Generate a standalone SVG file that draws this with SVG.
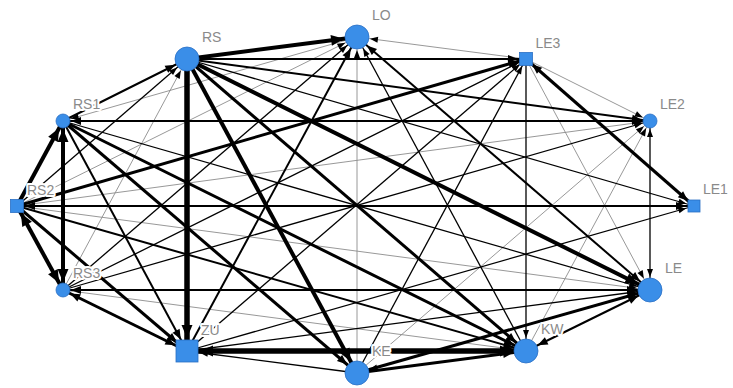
<svg xmlns="http://www.w3.org/2000/svg" width="733" height="388" viewBox="0 0 733 388">
<style>
.e{stroke:#000;fill:none}
.g{stroke:#8c8c8c;stroke-width:0.9}
.w1{stroke-width:1.3}
.w2{stroke-width:2}
.w3{stroke-width:3}
.w4{stroke-width:4}
.w5{stroke-width:5.5}
.n{fill:#3a8ee8;stroke:#2a6fc4;stroke-width:0.8}
.l{font-family:"Liberation Sans",Arial,sans-serif;font-size:14px;fill:#8a8a8a;stroke:#fff;stroke-width:4;stroke-linejoin:round;paint-order:stroke}
</style>
<defs>
<marker id="bS" markerUnits="userSpaceOnUse" orient="auto-start-reverse" refX="0" refY="0" markerWidth="40" markerHeight="20" viewBox="-40 -10 40 20" overflow="visible"><path d="M-13,0 L-21,-3 L-21,3Z"/></marker>
<marker id="bM" markerUnits="userSpaceOnUse" orient="auto-start-reverse" refX="0" refY="0" markerWidth="40" markerHeight="20" viewBox="-40 -10 40 20" overflow="visible"><path d="M-13,0 L-23,-4 L-23,4Z"/></marker>
<marker id="bL" markerUnits="userSpaceOnUse" orient="auto-start-reverse" refX="0" refY="0" markerWidth="40" markerHeight="20" viewBox="-40 -10 40 20" overflow="visible"><path d="M-13,0 L-26,-5.5 L-26,5.5Z"/></marker>
<marker id="sS" markerUnits="userSpaceOnUse" orient="auto-start-reverse" refX="0" refY="0" markerWidth="40" markerHeight="20" viewBox="-40 -10 40 20" overflow="visible"><path d="M-8,0 L-16,-3 L-16,3Z"/></marker>
<marker id="sM" markerUnits="userSpaceOnUse" orient="auto-start-reverse" refX="0" refY="0" markerWidth="40" markerHeight="20" viewBox="-40 -10 40 20" overflow="visible"><path d="M-8,0 L-18,-4 L-18,4Z"/></marker>
<marker id="sL" markerUnits="userSpaceOnUse" orient="auto-start-reverse" refX="0" refY="0" markerWidth="40" markerHeight="20" viewBox="-40 -10 40 20" overflow="visible"><path d="M-8,0 L-21,-5.5 L-21,5.5Z"/></marker>
</defs>
<rect width="733" height="388" fill="#fff"/>
<g id="connectors" class="e">
<line class="g" x1="526" y1="59" x2="357" y2="37" marker-end="url(#bS)"/>
<line class="g" x1="357" y1="373" x2="357" y2="37" marker-end="url(#bS)"/>
<line class="g" x1="63" y1="290" x2="187" y2="59" marker-end="url(#bS)"/>
<line class="g" x1="17" y1="206" x2="357" y2="37" marker-end="url(#bS)"/>
<line class="g" x1="357" y1="37" x2="63" y2="121" marker-end="url(#sS)"/>
<line class="g" x1="526" y1="59" x2="650" y2="121" marker-end="url(#sS)"/>
<line class="g" x1="526" y1="59" x2="650" y2="290" marker-end="url(#bS)"/>
<line class="g" x1="17" y1="206" x2="650" y2="121" marker-end="url(#sS)"/>
<line class="g" x1="526" y1="351" x2="650" y2="121" marker-end="url(#sS)"/>
<line class="g" x1="357" y1="373" x2="650" y2="121" marker-end="url(#sS)"/>
<line class="g" x1="17" y1="206" x2="650" y2="290" marker-end="url(#bS)"/>
<line class="g" x1="63" y1="290" x2="526" y2="351" marker-end="url(#bS)"/>
<line class="w1" x1="187" y1="59" x2="694" y2="206" marker-end="url(#sS)"/>
<line class="w1" x1="17" y1="206" x2="187" y2="59" marker-end="url(#bS)"/>
<line class="w1" x1="526" y1="351" x2="357" y2="37" marker-end="url(#bS)"/>
<line class="w1" x1="63" y1="290" x2="357" y2="37" marker-end="url(#bS)"/>
<line class="w1" x1="63" y1="290" x2="526" y2="59" marker-end="url(#sS)"/>
<line class="w1" x1="357" y1="373" x2="526" y2="59" marker-end="url(#sS)"/>
<line class="w1" x1="187" y1="351" x2="526" y2="59" marker-end="url(#sS)"/>
<line class="w1" x1="526" y1="59" x2="526" y2="351" marker-end="url(#bS)"/>
<line class="w1" x1="63" y1="290" x2="650" y2="121" marker-end="url(#sS)"/>
<line class="w1" x1="650" y1="121" x2="650" y2="290" marker-start="url(#sS)" marker-end="url(#bS)"/>
<line class="w1" x1="187" y1="351" x2="694" y2="206" marker-end="url(#sS)"/>
<line class="w1" x1="187" y1="351" x2="650" y2="290" marker-end="url(#bS)"/>
<line class="w1" x1="63" y1="121" x2="650" y2="290" marker-end="url(#bS)"/>
<line class="w1" x1="650" y1="290" x2="357" y2="373" marker-end="url(#bS)"/>
<line class="w1" x1="357" y1="373" x2="187" y2="351" marker-end="url(#bS)"/>
<line class="w2" x1="187" y1="59" x2="526" y2="59" marker-end="url(#sM)"/>
<line class="w2" x1="187" y1="59" x2="650" y2="121" marker-end="url(#sM)"/>
<line class="w2" x1="63" y1="121" x2="187" y2="59" marker-end="url(#bM)"/>
<line class="w2" x1="187" y1="351" x2="357" y2="37" marker-end="url(#bM)"/>
<line class="w2" x1="357" y1="37" x2="650" y2="290" marker-start="url(#bM)" marker-end="url(#bM)"/>
<line class="w2" x1="63" y1="121" x2="650" y2="121" marker-start="url(#sM)" marker-end="url(#sM)"/>
<line class="w2" x1="17" y1="206" x2="694" y2="206" marker-start="url(#sM)" marker-end="url(#sM)"/>
<line class="w2" x1="63" y1="290" x2="650" y2="290" marker-start="url(#sM)" marker-end="url(#bM)"/>
<line class="w2" x1="526" y1="351" x2="650" y2="290" marker-start="url(#bM)" marker-end="url(#bM)"/>
<line class="w2" x1="17" y1="206" x2="526" y2="351" marker-end="url(#bM)"/>
<line class="w2" x1="63" y1="121" x2="187" y2="351" marker-end="url(#bM)"/>
<line class="w3" x1="187" y1="59" x2="526" y2="351" marker-end="url(#bM)"/>
<line class="w3" x1="17" y1="206" x2="526" y2="59" marker-end="url(#sM)"/>
<line class="w3" x1="526" y1="59" x2="694" y2="206" marker-start="url(#sM)" marker-end="url(#sM)"/>
<line class="w3" x1="357" y1="373" x2="650" y2="290" marker-end="url(#bM)"/>
<line class="w3" x1="357" y1="373" x2="526" y2="351" marker-end="url(#bM)"/>
<line class="w3" x1="63" y1="121" x2="526" y2="351" marker-end="url(#bM)"/>
<line class="w3" x1="63" y1="121" x2="357" y2="373" marker-end="url(#bM)"/>
<line class="w3" x1="17" y1="206" x2="187" y2="351" marker-end="url(#bM)"/>
<line class="w3" x1="63" y1="290" x2="187" y2="351" marker-start="url(#sM)" marker-end="url(#bM)"/>
<line class="w4" x1="187" y1="59" x2="357" y2="37" marker-end="url(#bL)"/>
<line class="w4" x1="187" y1="59" x2="650" y2="290" marker-end="url(#bL)"/>
<line class="w4" x1="187" y1="59" x2="357" y2="373" marker-end="url(#bL)"/>
<line class="w4" x1="63" y1="121" x2="63" y2="290" marker-start="url(#sL)" marker-end="url(#sL)"/>
<line class="w4" x1="17" y1="206" x2="63" y2="121" marker-end="url(#sL)"/>
<line class="w4" x1="17" y1="206" x2="63" y2="290" marker-start="url(#sL)" marker-end="url(#sL)"/>
<line class="w5" x1="187" y1="59" x2="187" y2="351" marker-end="url(#bL)"/>
<line class="w5" x1="187" y1="351" x2="526" y2="351" marker-start="url(#bL)" marker-end="url(#bL)"/>
</g>
<g id="node-RS"><circle class="n" cx="187" cy="59" r="12"/><text class="l" x="202" y="42">RS</text></g>
<g id="node-LO"><circle class="n" cx="357" cy="37" r="12"/><text class="l" x="372" y="20">LO</text></g>
<g id="node-LE3"><rect class="n" x="519.5" y="52.5" width="13" height="13"/><text class="l" x="535.5" y="48">LE3</text></g>
<g id="node-RS1"><circle class="n" cx="63" cy="121" r="7"/><text class="l" x="73" y="109">RS1</text></g>
<g id="node-LE2"><circle class="n" cx="650" cy="121" r="7"/><text class="l" x="660" y="109">LE2</text></g>
<g id="node-RS2"><rect class="n" x="10.5" y="199.5" width="13" height="13"/><text class="l" x="27" y="195">RS2</text></g>
<g id="node-LE1"><rect class="n" x="688" y="200" width="12" height="12"/><text class="l" x="703" y="194">LE1</text></g>
<g id="node-RS3"><circle class="n" cx="63" cy="290" r="7"/><text class="l" x="73" y="278">RS3</text></g>
<g id="node-LE"><circle class="n" cx="650" cy="290" r="12"/><text class="l" x="665" y="273">LE</text></g>
<g id="node-ZU"><rect class="n" x="176" y="340" width="22" height="22"/><text class="l" x="201" y="335">ZU</text></g>
<g id="node-KE"><circle class="n" cx="357" cy="373" r="12"/><text class="l" x="372" y="356">KE</text></g>
<g id="node-KW"><circle class="n" cx="526" cy="351" r="12"/><text class="l" x="541" y="334">KW</text></g>
</svg>
